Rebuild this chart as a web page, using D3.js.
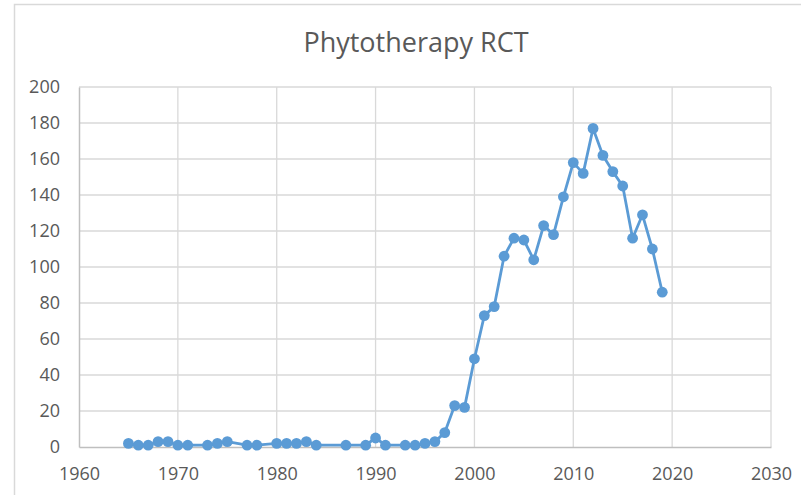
<!DOCTYPE html>
<html>
<head>
<meta charset="utf-8">
<script src="https://cdn.jsdelivr.net/npm/d3@7/dist/d3.min.js"></script>
<style>
  html, body { margin: 0; padding: 0; background: #fff; }
  svg { display: block; }
  text { font-family: "Open Sans", "Noto Sans", sans-serif; }
</style>
</head>
<body>
<svg id="chart" width="801" height="495"></svg>
<script>
const years = [1965,1966,1967,1968,1969,1970,1971,1973,1974,1975,1977,1978,1980,1981,1982,1983,1984,1987,1989,1990,1991,1993,1994,1995,1996,1997,1998,1999,2000,2001,2002,2003,2004,2005,2006,2007,2008,2009,2010,2011,2012,2013,2014,2015,2016,2017,2018,2019];
const counts = [2,1,1,3,3,1,1,1,2,3,1,1,2,2,2,3,1,1,1,5,1,1,1,2,3,8,23,22,49,73,78,106,116,115,104,123,118,139,158,152,177,162,153,145,116,129,110,86];
const xTicks = [1960,1970,1980,1990,2000,2010,2020,2030];
const yTicks = [0,20,40,60,80,100,120,140,160,180,200];
const title = "Phytotherapy RCT";

const svg = d3.select("#chart");
const m = {left: 79, right: 771, top: 87, bottom: 447};

// outer chart border
svg.append("rect").attr("x", 14.5).attr("y", 4.5).attr("width", 820).attr("height", 520)
  .attr("fill", "#fff").attr("stroke", "#d9d9d9").attr("stroke-width", 1.5);

const x = d3.scaleLinear().domain([1960, 2030]).range([m.left, m.right]);
const y = d3.scaleLinear().domain([0, 200]).range([m.bottom, m.top]);

// gridlines
const g = svg.append("g");
g.selectAll("line.h").data(yTicks.filter(d => d > 0)).join("line")
  .attr("x1", m.left).attr("x2", m.right)
  .attr("y1", d => y(d)).attr("y2", d => y(d))
  .attr("stroke", "#d9d9d9").attr("stroke-width", 1.3);
g.selectAll("line.v").data(xTicks.filter(d => d > 1960)).join("line")
  .attr("y1", m.top).attr("y2", m.bottom)
  .attr("x1", d => x(d)).attr("x2", d => x(d))
  .attr("stroke", "#d9d9d9").attr("stroke-width", 1.3);

// axes
const xAxis = d3.axisBottom(x).tickValues(xTicks).tickFormat(d3.format("d")).tickSize(0).tickPadding(20);
const yAxis = d3.axisLeft(y).tickValues(yTicks).tickSize(0).tickPadding(19);

const gx = svg.append("g").attr("transform", `translate(0,${m.bottom})`).call(xAxis);
const gy = svg.append("g").attr("transform", `translate(${m.left},0)`).call(yAxis);
[gx, gy].forEach(a => {
  a.select(".domain").attr("stroke", "#bfbfbf").attr("stroke-width", 1.5);
  a.selectAll("text").attr("fill", "#595959").style("font-size", "18px")
    .style("font-family", "'Open Sans', 'Noto Sans', sans-serif");
});

// line
const line = d3.line().x((d, i) => x(years[i])).y(d => y(d));
svg.append("path").datum(counts).attr("d", line)
  .attr("fill", "none").attr("stroke", "#5b9bd5").attr("stroke-width", 2.8)
  .attr("stroke-linejoin", "round");

svg.append("g").selectAll("circle").data(counts).join("circle")
  .attr("cx", (d, i) => x(years[i])).attr("cy", d => y(d)).attr("r", 5.4)
  .attr("fill", "#5b9bd5");

// title
svg.append("text").attr("x", 416).attr("y", 52).attr("text-anchor", "middle")
  .attr("fill", "#595959").style("font-size", "27px").text(title);
</script>
</body>
</html>
